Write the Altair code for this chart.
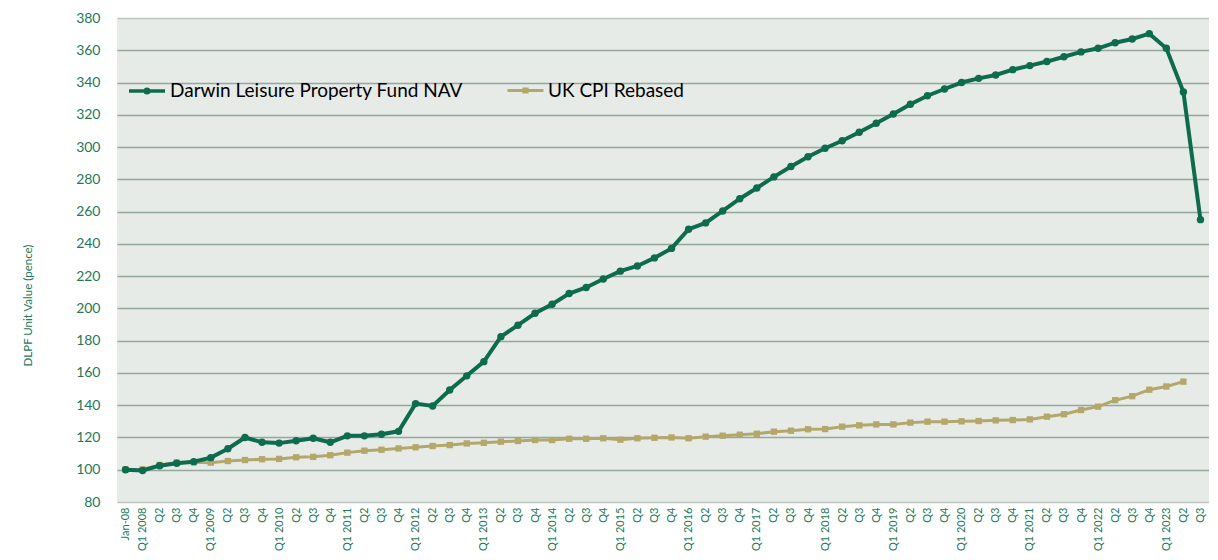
import json
import altair as alt
import pandas as pd

# ---- data ----
x_labels = [
    "Jan-08",
    "Q1 2008", "Q2", "Q3", "Q4",
    "Q1 2009", "Q2", "Q3", "Q4",
    "Q1 2010", "Q2", "Q3", "Q4",
    "Q1 2011", "Q2", "Q3", "Q4",
    "Q1 2012", "Q2", "Q3", "Q4",
    "Q1 2013", "Q2", "Q3", "Q4",
    "Q1 2014", "Q2", "Q3", "Q4",
    "Q1 2015", "Q2", "Q3", "Q4",
    "Q1 2016", "Q2", "Q3", "Q4",
    "Q1 2017", "Q2", "Q3", "Q4",
    "Q1 2018", "Q2", "Q3", "Q4",
    "Q1 2019", "Q2", "Q3", "Q4",
    "Q1 2020", "Q2", "Q3", "Q4",
    "Q1 2021", "Q2", "Q3", "Q4",
    "Q1 2022", "Q2", "Q3", "Q4",
    "Q1 2023", "Q2", "Q3",
]

nav_values = [
    100.0, 99.5, 102.5, 104.0, 105.0,
    107.5, 113.0, 120.0, 117.0,
    116.5, 118.0, 119.5, 117.0,
    121.0, 121.0, 122.0, 123.8,
    141.0, 139.5, 149.4, 158.2,
    167.0, 182.5, 189.6, 197.0,
    202.6, 209.2, 213.0, 218.2,
    223.1, 226.3, 231.3, 237.2,
    249.1, 253.0, 260.4, 268.0,
    274.6, 281.5, 288.0, 294.0,
    299.3, 303.9, 309.2, 314.8,
    320.5, 326.5, 331.8, 336.0,
    340.0, 342.6, 344.7, 348.0,
    350.5, 353.0, 356.0, 359.0,
    361.2, 364.7, 367.0, 370.3,
    361.2, 334.2, 255.0,
]

cpi_values = [
    100.2, 100.2, 103.0, 104.5, 104.6,
    104.4, 105.4, 106.0, 106.5,
    106.7, 107.7, 108.0, 109.0,
    110.6, 111.8, 112.4, 113.2,
    113.9, 114.7, 115.3, 116.3,
    116.7, 117.4, 117.8, 118.4,
    118.4, 119.2, 119.2, 119.5,
    118.6, 119.5, 119.8, 120.0,
    119.5, 120.5, 121.1, 121.7,
    122.3, 123.6, 124.2, 125.1,
    125.2, 126.7, 127.5, 128.1,
    128.1, 129.2, 129.8, 129.8,
    130.0, 130.2, 130.6, 130.8,
    131.2, 132.9, 134.4, 137.0,
    139.1, 143.1, 145.6, 149.6,
    151.6, 154.6,
]

series_names = ["Darwin Leisure Property Fund NAV", "UK CPI Rebased"]
series_colors = ["#0d6b4e", "#b3a76a"]
y_ticks = list(range(80, 381, 20))

# ---- build table ----
rows = []
for i, v in enumerate(nav_values):
    rows.append({"idx": i, "value": v, "series": series_names[0]})
for i, v in enumerate(cpi_values):
    rows.append({"idx": i, "value": v, "series": series_names[1]})
df = pd.DataFrame(rows)

FONT = "Lato"
AXIS_GREEN = "#1c7a5a"

label_expr = json.dumps(x_labels) + "[datum.value]"

x_enc = alt.X(
    "idx:O",
    scale=alt.Scale(type="point", padding=0.5),
    axis=alt.Axis(
        title=None,
        labelExpr=label_expr,
        labelAngle=-90,
        labelFont=FONT,
        labelFontSize=11,
        labelColor=AXIS_GREEN,
        labelPadding=5,
        ticks=False,
        domain=False,
        grid=False,
        labelOverlap=False,
    ),
)

y_enc = alt.Y(
    "value:Q",
    scale=alt.Scale(domain=[80, 380], nice=False, zero=False),
    axis=alt.Axis(
        title="DLPF Unit Value (pence)",
        titleFont=FONT,
        titleFontSize=11.5,
        titleFontWeight="normal",
        titleColor=AXIS_GREEN,
        titlePadding=42,
        titleY=287,
        values=y_ticks,
        labelFont=FONT,
        labelFontSize=14,
        labelColor=AXIS_GREEN,
        labelPadding=17,
        ticks=False,
        domain=False,
        grid=True,
        gridColor={
            "condition": {"test": "datum.value === 80 || datum.value === 380", "value": "#bcc6c0"},
            "value": "#93a79c",
        },
        gridWidth=1.6,
    ),
)

base = alt.Chart(df)

nav_path = "M-1,0H1M0.1,0A0.1,0.1,0,1,1,-0.1,0A0.1,0.1,0,1,1,0.1,0Z"
cpi_path = "M-1,0H1M-0.09,-0.09H0.09V0.09H-0.09Z"

nav_layer = base.transform_filter(
    alt.datum.series == series_names[0]
).mark_line(
    strokeWidth=4,
    point=alt.OverlayMarkDef(shape="circle", size=55, filled=True, opacity=1),
).encode(
    x=x_enc,
    y=y_enc,
    color=alt.Color(
        "series:N",
        scale=alt.Scale(domain=[series_names[0]], range=[series_colors[0]]),
        legend=alt.Legend(
            title=None,
            orient="none",
            legendX=10,
            legendY=53,
            symbolType=nav_path,
            symbolSize=1296,
            symbolStrokeWidth=3.5,
            labelFont=FONT,
            labelFontSize=19,
            labelColor="#000000",
            labelOffset=3,
            labelLimit=0,
            padding=0,
        ),
    ),
)

cpi_layer = base.transform_filter(
    alt.datum.series == series_names[1]
).mark_line(
    strokeWidth=3,
    point=alt.OverlayMarkDef(shape="square", size=40, filled=True, opacity=1),
).encode(
    x=x_enc,
    y=y_enc,
    color=alt.Color(
        "series:N",
        scale=alt.Scale(domain=[series_names[1]], range=[series_colors[1]]),
        legend=alt.Legend(
            title=None,
            orient="none",
            legendX=389,
            legendY=53,
            symbolType=cpi_path,
            symbolSize=1296,
            symbolStrokeWidth=3,
            labelFont=FONT,
            labelFontSize=19,
            labelColor="#000000",
            labelOffset=3,
            labelLimit=0,
            padding=0,
        ),
    ),
)

chart = alt.layer(cpi_layer, nav_layer).resolve_scale(
    color="independent"
).resolve_legend(
    color="independent"
).properties(
    width=1092,
    height=484,
    padding={"left": 14, "top": 3, "right": 0, "bottom": 0},
    background="#ffffff",
).configure_view(
    fill="#e7ebe8",
    stroke=None,
)

chart.save("out.html", embed_options={"renderer": "svg", "actions": False})
